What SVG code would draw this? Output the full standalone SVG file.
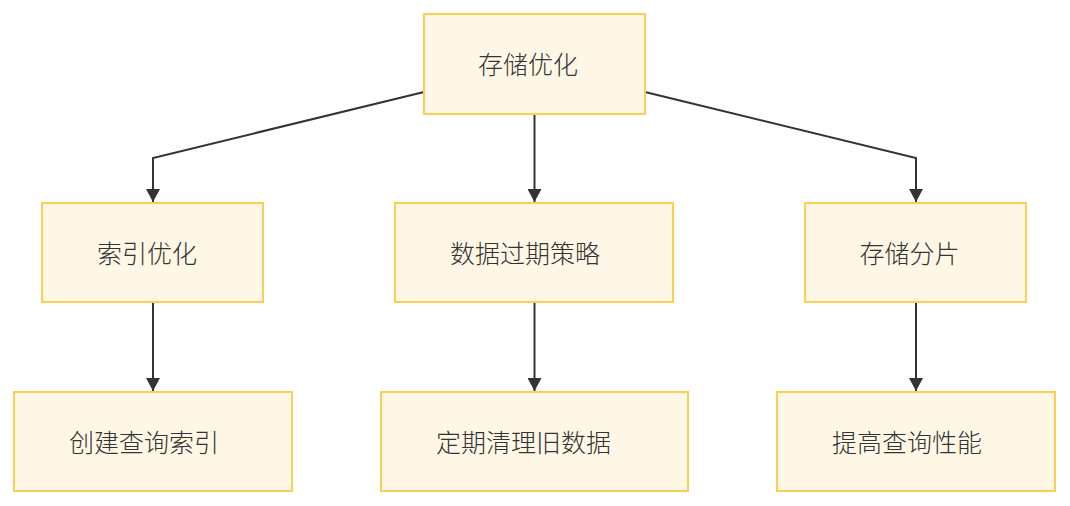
<svg xmlns="http://www.w3.org/2000/svg" width="1070" height="506" viewBox="0 0 1070 506">
<style>
.n rect{fill:#fff7e6;stroke:#f9cf55;stroke-width:2}
.n text{font-family:"Noto Sans CJK SC","Noto Sans",sans-serif;font-size:25px;font-weight:300;fill:#333;text-anchor:middle;dominant-baseline:central}
.e path{fill:none;stroke:#333;stroke-width:2}
</style>
<defs>
<marker id="ah" markerWidth="14" markerHeight="14" refX="13" refY="7" orient="auto" markerUnits="userSpaceOnUse">
<path d="M0,0 L13,7 L0,14 Z" fill="#333"/>
</marker>
</defs>
<rect width="1070" height="506" fill="#fff"/>
<g class="e">
<path d="M424,92 L153,158 L153,202" marker-end="url(#ah)"/>
<path d="M534.5,114 L534.5,202" marker-end="url(#ah)"/>
<path d="M645,92 L916,158 L916,202" marker-end="url(#ah)"/>
<path d="M153,302 L153,391" marker-end="url(#ah)"/>
<path d="M534.5,302 L534.5,391" marker-end="url(#ah)"/>
<path d="M916,302 L916,391" marker-end="url(#ah)"/>
</g>
<g class="n" id="n0"><rect x="424" y="14" width="221" height="100"/><text x="528" y="63">存储优化</text></g>
<g class="n" id="n1"><rect x="42" y="203" width="221" height="99"/><text x="147" y="251.5">索引优化</text></g>
<g class="n" id="n2"><rect x="395" y="203" width="278" height="99"/><text x="525" y="251.5">数据过期策略</text></g>
<g class="n" id="n3"><rect x="805" y="203" width="221" height="99"/><text x="909.5" y="251.5">存储分片</text></g>
<g class="n" id="n4"><rect x="14" y="392" width="278" height="99"/><text x="144" y="440.5">创建查询索引</text></g>
<g class="n" id="n5"><rect x="381" y="392" width="307" height="99"/><text x="523.5" y="440.5">定期清理旧数据</text></g>
<g class="n" id="n6"><rect x="777" y="392" width="278" height="99"/><text x="907" y="440.5">提高查询性能</text></g>
</svg>
